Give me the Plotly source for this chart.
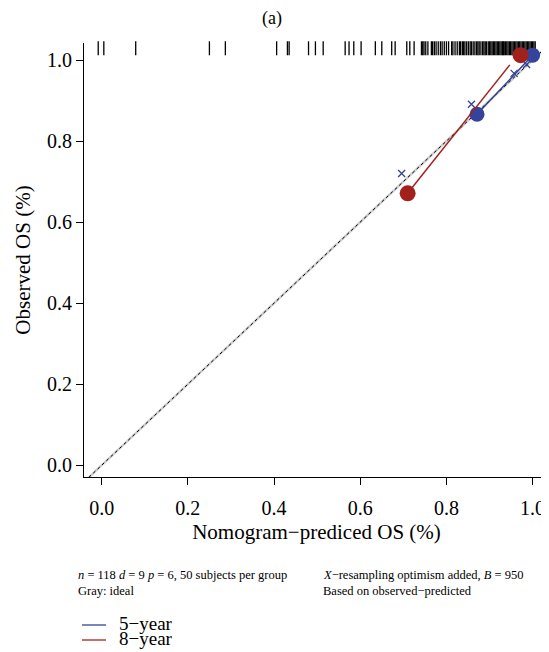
import plotly.graph_objects as go

# ---- data ----
ideal_x = [-0.05, 1.06]
ideal_y = [-0.05, 1.06]

y5_line_x = [0.871, 1.000]
y5_line_y = [0.866, 1.012]
y5_pts_x = [0.871, 1.000]
y5_pts_y = [0.866, 1.012]
y5_bc_x = [0.696, 0.858, 0.957, 0.986]
y5_bc_y = [0.720, 0.891, 0.967, 0.989]

y8_line_x = [0.710, 0.947]
y8_line_y = [0.671, 0.988]
y8_pts_x = [0.710, 0.972]
y8_pts_y = [0.671, 1.012]

rug_x = [-0.008, 0.005, 0.079, 0.250, 0.287, 0.406, 0.431, 0.435, 0.480, 0.496,
         0.514, 0.565, 0.574, 0.585, 0.602, 0.635, 0.650, 0.673, 0.681, 0.708,
         0.715, 0.725, 0.742, 0.745, 0.748, 0.752, 0.757, 0.765, 0.768, 0.772,
         0.776, 0.781, 0.786, 0.790, 0.795, 0.800, 0.805, 0.812, 0.815, 0.820,
         0.825, 0.830, 0.833, 0.837, 0.840, 0.843, 0.847, 0.851, 0.855, 0.858,
         0.862, 0.866, 0.870, 0.873, 0.876, 0.880, 0.884, 0.887, 0.890, 0.893,
         0.897, 0.900, 0.903, 0.906, 0.909, 0.912, 0.915, 0.918, 0.921, 0.924,
         0.927, 0.930, 0.932, 0.934, 0.937, 0.940, 0.943, 0.946, 0.949, 0.952,
         0.955, 0.958, 0.961, 0.964, 0.967, 0.970, 0.973, 0.976, 0.979, 0.982,
         0.985, 0.988, 0.991, 0.994, 0.997, 1.000, 1.003, 1.006]
rug_y = [1.029] * len(rug_x)

tick_vals = [0.0, 0.2, 0.4, 0.6, 0.8, 1.0]
tick_text = ["0.0", "0.2", "0.4", "0.6", "0.8", "1.0"]

BLUE = "#33449a"
RED = "#a3211d"
FONT = "Liberation Serif"
OFF = 8  # page body margin offset
FW, FH = 549 - OFF, 652 - OFF

fig = go.Figure()
fig.add_trace(go.Scatter(x=ideal_x, y=ideal_y, mode="lines",
                         line=dict(color="#cfcfcf", width=2.5), hoverinfo="skip"))
fig.add_trace(go.Scatter(x=ideal_x, y=ideal_y, mode="lines",
                         line=dict(color="black", width=1, dash="dot"), hoverinfo="skip"))
fig.add_trace(go.Scatter(x=rug_x, y=rug_y, mode="markers", cliponaxis=False,
                         marker=dict(symbol="line-ns", size=10,
                                     line=dict(color="black", width=1.3))))
fig.add_trace(go.Scatter(x=y5_line_x, y=y5_line_y, mode="lines",
                         line=dict(color=BLUE, width=1.5)))
fig.add_trace(go.Scatter(x=y5_bc_x, y=y5_bc_y, mode="markers",
                         marker=dict(symbol="x-thin", size=7,
                                     line=dict(color=BLUE, width=1.3))))
fig.add_trace(go.Scatter(x=y5_pts_x, y=y5_pts_y, mode="markers", cliponaxis=False,
                         marker=dict(color=BLUE, size=15)))
fig.add_trace(go.Scatter(x=y8_line_x, y=y8_line_y, mode="lines",
                         line=dict(color=RED, width=1.5)))
fig.add_trace(go.Scatter(x=y8_pts_x, y=y8_pts_y, mode="markers", cliponaxis=False,
                         marker=dict(color=RED, size=16)))

axis_common = dict(showgrid=False, zeroline=False, showline=True, linecolor="black",
                   linewidth=1.2, ticks="outside", ticklen=7, tickcolor="black",
                   tickwidth=1.2, tickvals=tick_vals, ticktext=tick_text,
                   automargin=False,
                   tickfont=dict(family=FONT, size=20, color="black"))

L, T, B_EDGE = 84 - OFF, 43 - OFF, 477 - OFF
fig.update_layout(
    width=FW, height=FH,
    margin=dict(l=L, r=0, t=T, b=FH - B_EDGE),
    paper_bgcolor="white", plot_bgcolor="white",
    showlegend=False,
    xaxis=dict(range=[-0.041, 1.038], **axis_common, ticklabelstandoff=6,
               title=dict(text="Nomogram\u2212prediced OS (%)", standoff=6,
                          font=dict(family=FONT, size=21, color="black"))),
    yaxis=dict(range=[-0.029, 1.042], **axis_common,
               title=dict(text="Observed OS (%)", standoff=10,
                          font=dict(family=FONT, size=21, color="black"))),
)

PW = FW - L
PH = B_EDGE - T

def pap(px, py):
    return (px - OFF - L) / PW, (B_EDGE - (py - OFF)) / PH

ann_font = dict(family=FONT, size=12.5, color="black")
xa, ya = pap(272, 18)
fig.add_annotation(text="(a)", xref="paper", yref="paper", x=xa, y=ya,
                   yanchor="middle", xanchor="center",
                   showarrow=False, font=dict(family=FONT, size=18, color="black"))

for txt, px, py in [
    ("<i>n</i> = 118 <i>d</i> = 9 <i>p</i> = 6, 50 subjects per group", 76, 575),
    ("Gray: ideal", 76, 591),
    ("<i>X</i>\u2212resampling optimism added, <i>B</i> = 950", 321, 575),
    ("Based on observed\u2212predicted", 321, 591),
]:
    x, y = pap(px, py)
    fig.add_annotation(text=txt, xref="paper", yref="paper", x=x, y=y,
                       xanchor="left", yanchor="middle", showarrow=False,
                       font=ann_font)

for lbl, col, py in [("5\u2212year", BLUE, 625), ("8\u2212year", RED, 640)]:
    x0, y0 = pap(82, py)
    x1, _ = pap(106, py)
    fig.add_shape(type="line", xref="paper", yref="paper", x0=x0, x1=x1, y0=y0, y1=y0,
                  line=dict(color=col, width=1.3))
    xt, yt = pap(117, py - 2)
    fig.add_annotation(text=lbl, xref="paper", yref="paper", x=xt, y=yt,
                       xanchor="left", yanchor="middle", showarrow=False,
                       font=dict(family=FONT, size=19, color="black"))

fig.write_html("out.html")
